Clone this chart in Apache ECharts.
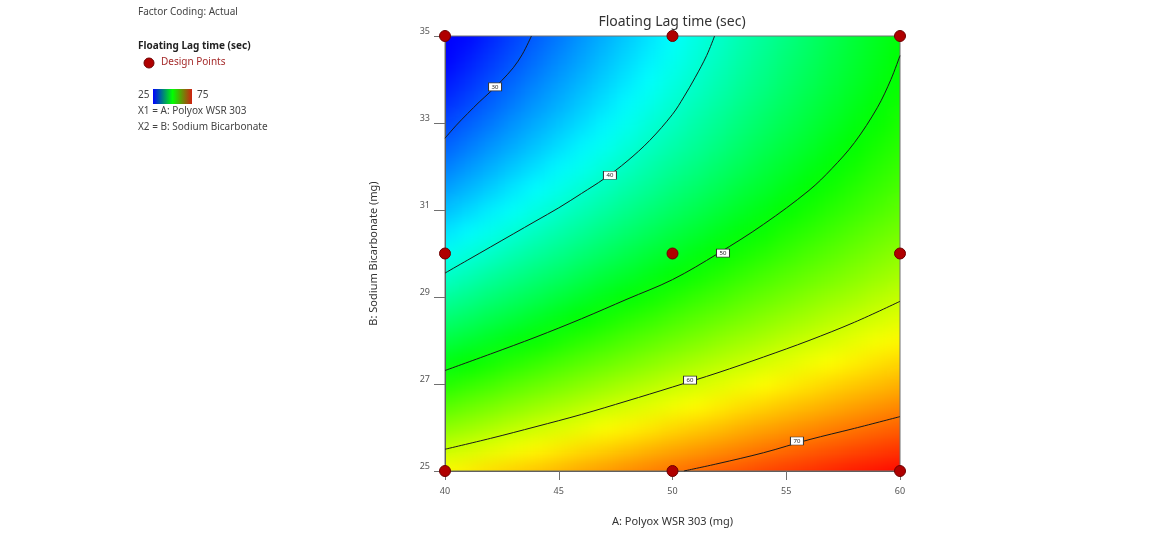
<!DOCTYPE html>
<html>
<head>
<meta charset="utf-8">
<script src="https://cdn.jsdelivr.net/npm/echarts@6/dist/echarts.min.js"></script>
<style>
  html, body { margin: 0; padding: 0; background: #ffffff; }
  #wrap { position: relative; width: 1160px; height: 539px; overflow: hidden; }
  #heatClip { position: absolute; left: 445px; top: 36px; width: 455px; height: 435px; overflow: hidden; }
  #heat { position: absolute; left: -40px; top: -40px; width: 535px; height: 515px; filter: blur(9px); }
  #main { position: absolute; left: 0; top: 0; width: 1160px; height: 539px; }
</style>
</head>
<body>
<div id="wrap">
  <div id="heatClip"><div id="heat"></div></div>
  <div id="main"></div>
</div>
<script>
// ---------- data ----------
const xTicks = [40, 45, 50, 55, 60];
const yTicks = [25, 27, 29, 31, 33, 35];
// grid of factor levels at which the response was read
const A_VALUES = [40,41,42,43,44,45,46,47,48,49,50,51,52,53,54,55,56,57,58,59,60];
const B_VALUES = [25,25.5,26,26.5,27,27.5,28,28.5,29,29.5,30,30.5,31,31.5,32,32.5,33,33.5,34,34.5,35];
// Floating lag time (sec): one row per B value, one column per A value
const RESPONSE = [
  [62.7,63.4,64.2,64.9,65.5,66.2,66.9,67.5,68.2,68.8,69.4,70.0,70.6,71.1,71.7,72.2,72.7,73.3,73.8,74.2,74.7],
  [59.8,60.5,61.3,62.0,62.8,63.5,64.2,64.8,65.5,66.2,66.8,67.4,68.0,68.6,69.2,69.8,70.4,70.9,71.4,71.9,72.4],
  [56.9,57.7,58.5,59.3,60.1,60.8,61.5,62.3,63.0,63.6,64.3,65.0,65.6,66.3,66.9,67.5,68.1,68.7,69.2,69.8,70.3],
  [54.2,55.1,55.9,56.7,57.5,58.3,59.0,59.8,60.5,61.2,61.9,62.6,63.3,64.0,64.6,65.3,65.9,66.5,67.1,67.7,68.3],
  [51.6,52.5,53.3,54.2,55.0,55.8,56.6,57.4,58.2,58.9,59.7,60.4,61.1,61.8,62.5,63.2,63.8,64.5,65.1,65.7,66.3],
  [49.1,50.0,50.9,51.8,52.6,53.5,54.3,55.1,55.9,56.7,57.5,58.3,59.0,59.7,60.5,61.2,61.9,62.5,63.2,63.9,64.5],
  [46.7,47.6,48.5,49.4,50.3,51.2,52.1,52.9,53.8,54.6,55.4,56.2,57.0,57.8,58.5,59.3,60.0,60.7,61.4,62.1,62.8],
  [44.4,45.3,46.3,47.2,48.2,49.1,50.0,50.9,51.8,52.6,53.5,54.3,55.1,55.9,56.7,57.5,58.2,59.0,59.7,60.4,61.1],
  [42.2,43.2,44.2,45.2,46.1,47.1,48.0,48.9,49.8,50.7,51.6,52.5,53.3,54.2,55.0,55.8,56.6,57.4,58.1,58.9,59.6],
  [40.1,41.1,42.2,43.2,44.2,45.1,46.1,47.1,48.0,48.9,49.8,50.7,51.6,52.5,53.4,54.2,55.0,55.8,56.6,57.4,58.2],
  [38.1,39.2,40.2,41.3,42.3,43.3,44.3,45.3,46.3,47.3,48.2,49.1,50.1,51.0,51.8,52.7,53.6,54.4,55.3,56.1,56.9],
  [36.2,37.3,38.4,39.5,40.6,41.6,42.6,43.7,44.7,45.7,46.7,47.6,48.6,49.5,50.4,51.4,52.2,53.1,54.0,54.9,55.7],
  [34.4,35.6,36.7,37.8,38.9,40.0,41.1,42.1,43.2,44.2,45.2,46.2,47.2,48.2,49.1,50.1,51.0,51.9,52.8,53.7,54.6],
  [32.8,33.9,35.1,36.3,37.4,38.5,39.6,40.7,41.8,42.8,43.9,44.9,45.9,47.0,47.9,48.9,49.9,50.8,51.8,52.7,53.6],
  [31.2,32.4,33.6,34.8,36.0,37.1,38.2,39.4,40.5,41.6,42.7,43.7,44.8,45.8,46.9,47.9,48.9,49.8,50.8,51.8,52.7],
  [29.7,31.0,32.2,33.4,34.6,35.8,37.0,38.1,39.3,40.4,41.5,42.6,43.7,44.8,45.9,46.9,47.9,49.0,50.0,51.0,51.9],
  [28.4,29.7,30.9,32.2,33.4,34.6,35.8,37.0,38.2,39.4,40.5,41.7,42.8,43.9,45.0,46.1,47.1,48.2,49.2,50.2,51.3],
  [27.1,28.4,29.7,31.0,32.3,33.5,34.8,36.0,37.2,38.4,39.6,40.8,41.9,43.1,44.2,45.3,46.4,47.5,48.6,49.6,50.7],
  [26.0,27.3,28.7,30.0,31.3,32.6,33.8,35.1,36.3,37.6,38.8,40.0,41.2,42.4,43.5,44.7,45.8,46.9,48.0,49.1,50.2],
  [24.9,26.3,27.7,29.0,30.4,31.7,33.0,34.3,35.6,36.8,38.1,39.3,40.6,41.8,43.0,44.2,45.3,46.5,47.6,48.7,49.9],
  [24.0,25.4,26.8,28.2,29.6,30.9,32.3,33.6,34.9,36.2,37.5,38.8,40.0,41.3,42.5,43.7,44.9,46.1,47.3,48.5,49.6]
];
// contour lines [A, B]
const contour30 = [[40,32.65],[40.5,32.95],[41,33.22],[41.5,33.48],[42,33.72],[42.5,33.98],[43,34.27],[43.4,34.58],[43.8,35]];
const contour40 = [[40,29.55],[41,29.85],[42,30.15],[43,30.45],[44,30.75],[45,31.05],[46,31.38],[47,31.72],[48,32.12],[49,32.6],[50,33.2],[50.5,33.6],[51,34.05],[51.5,34.55],[51.85,35]];
const contour50 = [[40,27.31],[42,27.69],[44,28.08],[46,28.5],[48,28.95],[50,29.4],[52,30.0],[54,30.67],[56,31.45],[57,31.95],[58,32.55],[59,33.35],[59.6,34.0],[60,34.55]];
const contour60 = [[40,25.5],[42,25.75],[44,26.02],[46,26.3],[48,26.61],[50,26.93],[52,27.26],[54,27.62],[56,28.0],[58,28.42],[60,28.9]];
const contour70 = [[50.5,25],[52,25.17],[54,25.42],[56,25.72],[58,25.98],[60,26.25]];
const contourLabels = [[42.2,33.83,30],[47.25,31.8,40],[52.22,30.01,50],[50.77,27.09,60],[55.47,25.69,70]];
// design points
const designA = [40,50,60,40,50,60,40,50,60];
const designB = [25,25,25,30,30,30,35,35,35];
const colorRange = ['#0000ff','#00ffff','#00ff00','#ffff00','#ff0000'];
const legendMin = 25, legendMax = 75;

// ---------- shared layout ----------
const FONT = 'Noto Sans, Open Sans, sans-serif';
const A_MIN = 40, A_MAX = 60, B_MIN = 25, B_MAX = 35;

// ---------- smooth colour field layer ----------
const cells = [];
for (let i = 0; i < B_VALUES.length; i++) {
  for (let j = 0; j < A_VALUES.length; j++) {
    cells.push([A_VALUES[j], B_VALUES[i], RESPONSE[i][j]]);
  }
}
const EXT = 40;
const heat = echarts.init(document.getElementById('heat'), null, {renderer: 'canvas'});
heat.setOption({
  animation: false,
  grid: {left: 40, top: 40, width: 455, height: 435, show: false},
  xAxis: {type: 'value', min: A_MIN, max: A_MAX, show: false},
  yAxis: {type: 'value', min: B_MIN, max: B_MAX, show: false},
  visualMap: {show: false, type: 'continuous', min: legendMin, max: legendMax, dimension: 2,
              seriesIndex: 0, inRange: {color: colorRange}},
  series: [{
    type: 'custom',
    data: cells,
    encode: {x: 0, y: 1},
    renderItem: function (params, api) {
      const a = api.value(0), b = api.value(1);
      const c = api.coord([a, b]);
      const s = api.size([1, 0.5]);
      let x0 = c[0] - s[0] / 2, x1 = c[0] + s[0] / 2;
      let y0 = c[1] - s[1] / 2, y1 = c[1] + s[1] / 2;
      if (a === A_MIN) x0 -= EXT;
      if (a === A_MAX) x1 += EXT;
      if (b === B_MAX) y0 -= EXT;
      if (b === B_MIN) y1 += EXT;
      return {type: 'rect', shape: {x: x0, y: y0, width: x1 - x0 + 0.6, height: y1 - y0 + 0.6},
              style: {fill: api.visual('color')}};
    }
  }]
});

// ---------- main chart: axes, contours, points, texts ----------
const lineSeries = (d) => ({
  type: 'line', data: d, smooth: 0.35, symbol: 'none', silent: true, clip: true,
  lineStyle: {color: '#1a1a1a', width: 1}, z: 3
});
const designPts = designA.map((a, k) => [a, designB[k]]);

const chart = echarts.init(document.getElementById('main'), null, {renderer: 'canvas'});
chart.setOption({
  animation: false,
  backgroundColor: 'transparent',
  textStyle: {fontFamily: FONT},
  title: {
    text: 'Floating Lag time (sec)', left: 672, top: 15, textAlign: 'center', padding: 0,
    textStyle: {fontFamily: FONT, fontSize: 14, fontWeight: 'normal', color: '#333'}
  },
  grid: {left: 445, top: 36, width: 455, height: 435, show: true,
         borderColor: '#707070', borderWidth: 1, backgroundColor: 'transparent'},
  xAxis: {
    type: 'value', min: A_MIN, max: A_MAX, interval: 5,
    name: 'A: Polyox WSR 303 (mg)', nameLocation: 'middle', nameGap: 45,
    nameTextStyle: {fontFamily: FONT, fontSize: 11, color: '#333'},
    axisLine: {show: true, lineStyle: {color: '#606060'}},
    axisTick: {show: true, length: 9, customValues: xTicks, lineStyle: {color: '#707070'}},
    axisLabel: {fontFamily: FONT, fontSize: 9, color: '#555', margin: 16, customValues: xTicks},
    splitLine: {show: false}
  },
  yAxis: {
    type: 'value', min: B_MIN, max: B_MAX,
    name: 'B: Sodium Bicarbonate (mg)', nameLocation: 'middle', nameGap: 66,
    nameTextStyle: {fontFamily: FONT, fontSize: 11, color: '#333'},
    axisLine: {show: true, lineStyle: {color: '#606060'}},
    axisTick: {show: true, length: 11, customValues: yTicks, lineStyle: {color: '#707070'}},
    axisLabel: {fontFamily: FONT, fontSize: 9, color: '#555', margin: 15, customValues: yTicks,
                verticalAlign: 'bottom', lineHeight: 10},
    splitLine: {show: false}
  },
  series: [
    lineSeries(contour30), lineSeries(contour40), lineSeries(contour50),
    lineSeries(contour60), lineSeries(contour70),
    {
      type: 'scatter', data: contourLabels, symbol: 'rect', symbolSize: [13, 8], z: 4, silent: true,
      itemStyle: {color: '#ffffff', borderColor: '#333', borderWidth: 0.8, opacity: 1},
      label: {show: true, position: 'inside', formatter: (p) => String(p.value[2]),
              fontSize: 6, color: '#222', fontFamily: FONT}
    },
    {
      type: 'scatter', data: designPts, symbol: 'circle', symbolSize: 11, clip: false, z: 5,
      itemStyle: {color: '#b00000', borderColor: '#6e0000', borderWidth: 1, opacity: 1}
    }
  ],
  graphic: [
    {type: 'text', left: 138, top: 7, style: {text: 'Factor Coding: Actual', fontFamily: FONT, fontSize: 10, fill: '#444'}},
    {type: 'text', left: 138, top: 41, style: {text: 'Floating Lag time (sec)', fontFamily: FONT, fontSize: 10, fontWeight: 'bold', fill: '#222'}},
    {type: 'circle', shape: {cx: 149, cy: 63, r: 5}, style: {fill: '#b00000', stroke: '#6e0000', lineWidth: 1}},
    {type: 'text', left: 161, top: 57, style: {text: 'Design Points', fontFamily: FONT, fontSize: 10, fill: '#a52a2a'}},
    {type: 'text', left: 138, top: 90, style: {text: String(legendMin), fontFamily: FONT, fontSize: 10, fill: '#444'}},
    {type: 'rect', shape: {x: 153, y: 89, width: 39, height: 15},
     style: {fill: new echarts.graphic.LinearGradient(0, 0, 1, 0, [
       {offset: 0, color: '#0000ff'}, {offset: 0.5, color: '#00ff00'}, {offset: 1, color: '#d02010'}])}},
    {type: 'text', left: 197, top: 90, style: {text: String(legendMax), fontFamily: FONT, fontSize: 10, fill: '#444'}},
    {type: 'text', left: 138, top: 106, style: {text: 'X1 = A: Polyox WSR 303', fontFamily: FONT, fontSize: 10, fill: '#444'}},
    {type: 'text', left: 138, top: 122, style: {text: 'X2 = B: Sodium Bicarbonate', fontFamily: FONT, fontSize: 10, fill: '#444'}}
  ]
});
</script>
</body>
</html>
